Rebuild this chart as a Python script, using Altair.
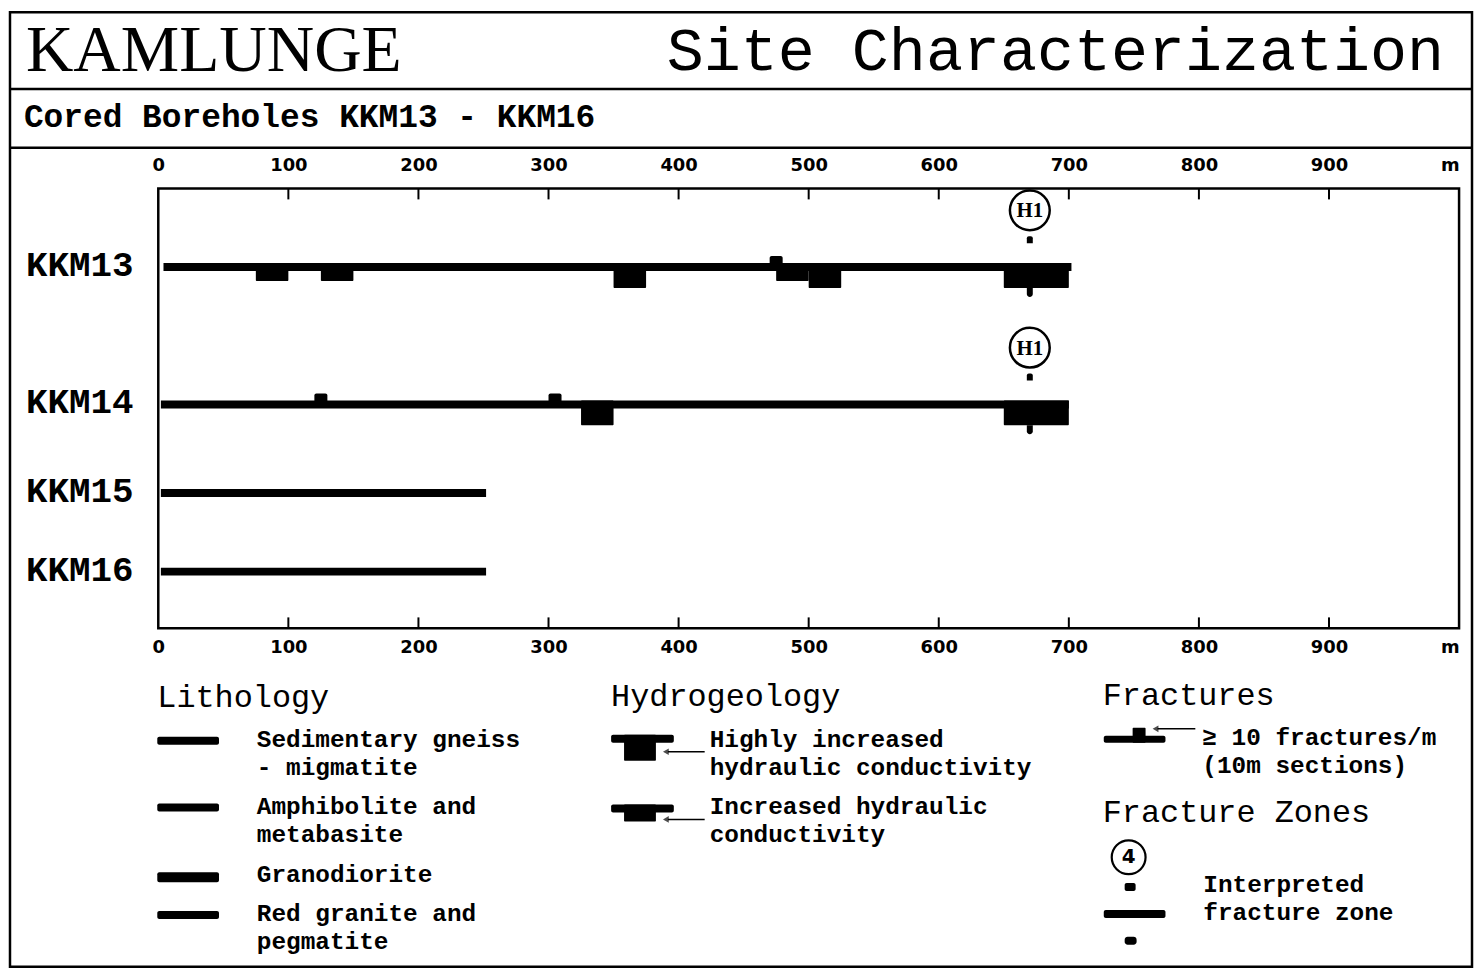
import altair as alt
import pandas as pd

# ---------------- data ----------------
boreholes = ["KKM13", "KKM14", "KKM15", "KKM16"]
bh_start = [4, 2, 2, 2]
bh_end = [702, 700, 252, 252]

hydro_bh = ["KKM13", "KKM13", "KKM13", "KKM13", "KKM13", "KKM13", "KKM14", "KKM14"]
hydro_start = [75, 125, 350, 475, 500, 650, 325, 650]
hydro_end = [100, 150, 375, 500, 525, 700, 350, 700]
hydro_class = ["increased", "increased", "highly", "increased", "highly", "highly", "highly", "highly"]

frac_bh = ["KKM13", "KKM14", "KKM14"]
frac_start = [470, 120, 300]
frac_end = [480, 130, 310]

zone_bh = ["KKM13", "KKM14"]
zone_pos = [670, 670]
zone_label = ["H1", "H1"]

x_tick_values = [0, 100, 200, 300, 400, 500, 600, 700, 800, 900, 1000]
inner_ticks = [100, 200, 300, 400, 500, 600, 700, 800, 900]

title_left = "KAMLUNGE"
title_right = "Site Characterization"
subtitle = "Cored Boreholes KKM13 - KKM16"

# ---------------- layout (page px) ----------------
OX, OY = 158, 186          # plot origin on the page
W, H = 1307, 442           # plot size
bh_rows = [265 - OY, 403 - OY, 492 - OY, 571 - OY]

idx = {b: i for i, b in enumerate(boreholes)}
bh_df = pd.DataFrame({"bh": boreholes, "i": range(4), "start": bh_start, "end": bh_end})
hy_df = pd.DataFrame({"bh": hydro_bh, "i": [idx[b] for b in hydro_bh],
                      "start": hydro_start, "end": hydro_end, "cls": hydro_class})
fr_df = pd.DataFrame({"bh": frac_bh, "i": [idx[b] for b in frac_bh],
                      "start": frac_start, "end": frac_end})
zn_df = pd.DataFrame({"bh": zone_bh, "i": [idx[b] for b in zone_bh],
                      "pos": zone_pos, "label": zone_label})
tk_df = pd.DataFrame({"t": inner_ticks})
one = pd.DataFrame({"k": [0]})

xs = alt.Scale(domain=[0, 1000], nice=False, zero=False)
ys = alt.Scale(domain=[0, 1, 2, 3], range=bh_rows, nice=False, zero=False)

AXFONT = "DejaVu Sans"
mono = "Liberation Mono"

label_align = {"condition": {"test": "datum.value == 1000", "value": "right"}, "value": "center"}
x_label_expr = "datum.value == 1000 ? 'm' : datum.label"

top_axis = alt.Axis(orient="top", values=x_tick_values, labelExpr=x_label_expr, title=None,
                    domain=False, ticks=False, tickSize=0, grid=False, labelPadding=14,
                    labelFont=AXFONT, labelFontSize=18, labelFontWeight="bold", labelColor="black",
                    labelAlign=label_align, labelOverlap=False)
bottom_axis = alt.Axis(orient="bottom", values=x_tick_values, labelExpr=x_label_expr, title=None,
                       domain=False, ticks=False, tickSize=0, grid=False, labelPadding=10,
                       labelFont=AXFONT, labelFontSize=18, labelFontWeight="bold", labelColor="black",
                       labelAlign=label_align, labelOverlap=False)

# ticks pointing inward (top and bottom), carrying the two x axes
ticks_top = alt.Chart(tk_df).mark_rule(color="black", strokeWidth=2).encode(
    x=alt.X("t:Q", scale=xs, axis=top_axis), y=alt.value(0), y2=alt.value(11))
ticks_bot = alt.Chart(tk_df).mark_rule(color="black", strokeWidth=2).encode(
    x=alt.X("t:Q", scale=xs, axis=bottom_axis), y=alt.value(H - 11), y2=alt.value(H))

# borehole names (row labels) placed through the y scale
bh_names = alt.Chart(bh_df).mark_text(font=mono, fontSize=36, fontWeight="bold", align="right",
                                      baseline="middle", color="black", dy=-2).encode(
    x=alt.value(-25), y=alt.Y("i:Q", scale=ys, axis=None), text="bh:N")

# borehole lines
lines = alt.Chart(bh_df).mark_rule(color="black", strokeWidth=8).encode(
    x=alt.X("start:Q", scale=xs, axis=None), x2="end:Q",
    y=alt.Y("i:Q", scale=ys, axis=None))

# hydraulic conductivity blocks
hy_inc = alt.Chart(hy_df).transform_filter("datum.cls == 'increased'").mark_rect(
    color="black", yOffset=-4, y2Offset=14, cornerRadius=1).encode(
    x=alt.X("start:Q", scale=xs, axis=None), x2="end:Q",
    y=alt.Y("i:Q", scale=ys, axis=None), y2="i:Q")
hy_high = alt.Chart(hy_df).transform_filter("datum.cls == 'highly'").mark_rect(
    color="black", yOffset=-4, y2Offset=21, cornerRadius=1).encode(
    x=alt.X("start:Q", scale=xs, axis=None), x2="end:Q",
    y=alt.Y("i:Q", scale=ys, axis=None), y2="i:Q")

# fracture frequency blocks
fr = alt.Chart(fr_df).mark_rect(color="black", yOffset=-11, y2Offset=0, cornerRadius=2).encode(
    x=alt.X("start:Q", scale=xs, axis=None), x2="end:Q",
    y=alt.Y("i:Q", scale=ys, axis=None), y2="i:Q")

# fracture zones
zn_circle = alt.Chart(zn_df).mark_point(shape="circle", size=1600, color="black", strokeWidth=2.5,
                                        filled=False, yOffset=-57, opacity=1).encode(
    x=alt.X("pos:Q", scale=xs, axis=None), y=alt.Y("i:Q", scale=ys, axis=None))
zn_text = alt.Chart(zn_df).mark_text(font="Liberation Serif", fontSize=21, fontWeight="bold",
                                     dy=-56, baseline="middle", align="center", color="black").encode(
    x=alt.X("pos:Q", scale=xs, axis=None), y=alt.Y("i:Q", scale=ys, axis=None), text="label:N")
zn_cap = alt.Chart(zn_df).mark_rect(color="black", xOffset=-3, x2Offset=3, yOffset=-31, y2Offset=-24,
                                    cornerRadiusTopLeft=2, cornerRadiusTopRight=2).encode(
    x=alt.X("pos:Q", scale=xs, axis=None), x2="pos:Q",
    y=alt.Y("i:Q", scale=ys, axis=None), y2="i:Q")
zn_cup = alt.Chart(zn_df).mark_rect(color="black", xOffset=-3, x2Offset=3, yOffset=21, y2Offset=30,
                                    cornerRadiusBottomLeft=3, cornerRadiusBottomRight=3).encode(
    x=alt.X("pos:Q", scale=xs, axis=None), x2="pos:Q",
    y=alt.Y("i:Q", scale=ys, axis=None), y2="i:Q")


# ---------------- decorations (page coordinates) ----------------
def txt(s, x, y, size, font=mono, weight="bold", align="left", baseline="alphabetic"):
    return alt.Chart(one).mark_text(text=s, font=font, fontSize=size, fontWeight=weight, align=align,
                                    baseline=baseline, lineBreak="\n", lineHeight=28,
                                    color="black").encode(x=alt.value(x - OX), y=alt.value(y - OY))


def box(x1, y1, x2, y2, r=0):
    return alt.Chart(one).mark_rect(color="black", cornerRadius=r).encode(
        x=alt.value(x1 - OX), x2=alt.value(x2 - OX), y=alt.value(y1 - OY), y2=alt.value(y2 - OY))


def hline(x1, x2, y, w=2.5):
    return alt.Chart(one).mark_rule(color="black", strokeWidth=w).encode(
        x=alt.value(x1 - OX), x2=alt.value(x2 - OX), y=alt.value(y - OY))


def arrow(x1, x2, y):
    return [hline(x1, x2 + 2, y, 1.5),
            alt.Chart(one).mark_point(shape="triangle-left", filled=True, size=45, color="black").encode(
                x=alt.value(x2 - OX), y=alt.value(y - OY))]


frame = alt.Chart(one).mark_rect(filled=False, color="black", strokeWidth=2.5).encode(
    x=alt.value(9 - OX), x2=alt.value(1478 - OX), y=alt.value(9 - OY), y2=alt.value(968 - OY))

deco = [frame, hline(9, 1478, 86), hline(9, 1478, 145),
        txt(title_left, 25, 68, 66, font="Liberation Serif", weight="normal"),
        txt(title_right, 1450, 67, 62, font=mono, weight="normal", align="right"),
        txt(subtitle, 23, 124, 33)]

# legend headings
for s, x, y in [("Lithology", 157, 707), ("Hydrogeology", 613, 706),
                ("Fractures", 1107, 705), ("Fracture Zones", 1107, 823)]:
    deco.append(txt(s, x, y, 32, weight="normal"))

# legend texts
for s, x, y in [("Sedimentary gneiss\n- migmatite", 257, 747),
                ("Amphibolite and\nmetabasite", 257, 815),
                ("Granodiorite", 257, 883),
                ("Red granite and\npegmatite", 257, 922),
                ("Highly increased\nhydraulic conductivity", 712, 747),
                ("Increased hydraulic\nconductivity", 712, 815),
                ("\u2265 10 fractures/m\n(10m  sections)", 1207, 745),
                ("Interpreted\nfracture zone", 1208, 893)]:
    deco.append(txt(s, x, y, 24.5))

# lithology swatches
deco += [box(157, 737, 219, 745, 2), box(157, 804, 219, 812, 2),
         box(157, 873, 219, 883, 2), box(157, 912, 219, 920, 2)]
# hydrogeology swatches
deco += [box(613, 735, 676, 743, 2), box(626, 735, 658, 761, 1)] + arrow(707, 668, 752)
deco += [box(613, 805, 676, 813, 2), box(626, 805, 658, 822, 1)] + arrow(707, 668, 820)
# fractures swatch
deco += [box(1108, 736, 1170, 743, 2), box(1137, 728, 1150, 743, 1)] + arrow(1200, 1160, 729)
# fracture zone swatch
deco += [alt.Chart(one).mark_point(shape="circle", size=1156, color="black", strokeWidth=2.2,
                                   filled=False, opacity=1).encode(
            x=alt.value(1133 - OX), y=alt.value(858 - OY)),
         txt("4", 1133, 858, 20, font=AXFONT, align="center", baseline="middle"),
         box(1129, 884, 1140, 892, 2), box(1108, 911, 1170, 919, 2), box(1129, 938, 1141, 946, 3)]

chart = alt.layer(ticks_top, ticks_bot, bh_names, lines, hy_inc, hy_high, fr,
                  zn_circle, zn_text, zn_cap, zn_cup, *deco).properties(
    width=W, height=H, padding=0, background="white"
).configure_view(stroke="black", strokeWidth=2.5)

chart.save("out.html", embed_options={"renderer": "svg", "actions": False})
